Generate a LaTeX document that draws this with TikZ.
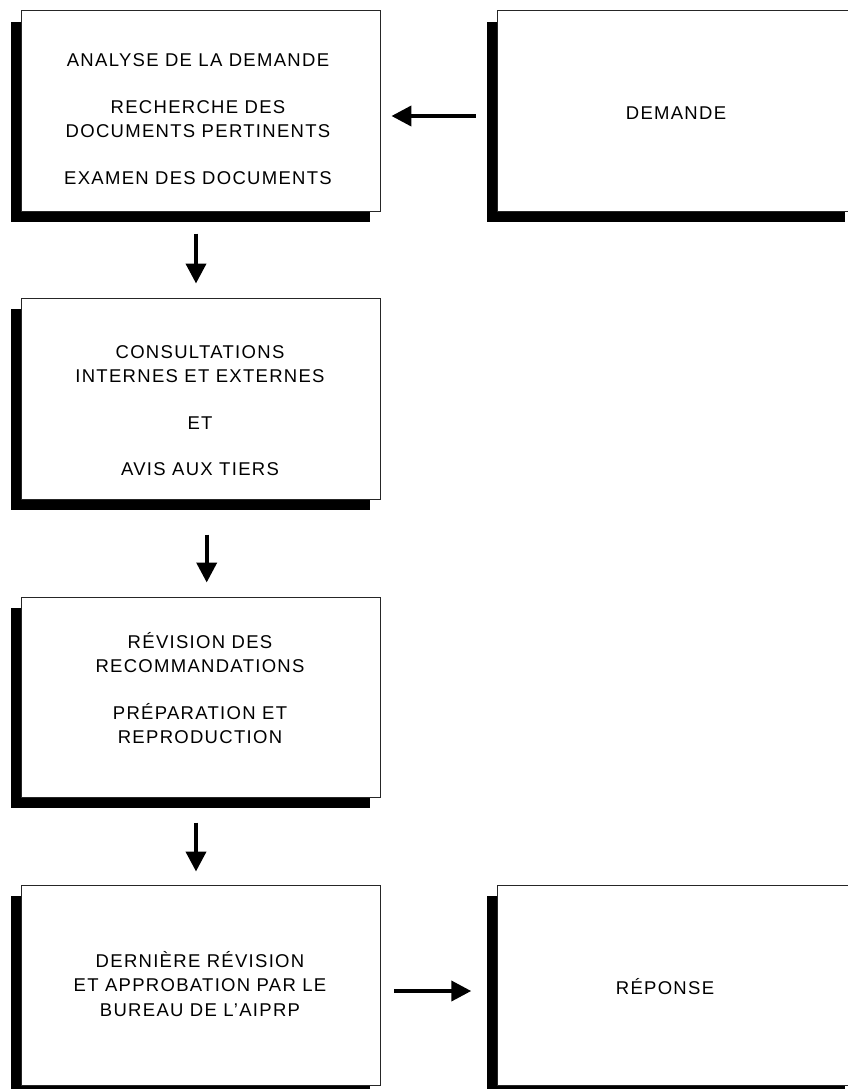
\documentclass[tikz,border=0pt]{standalone}
\usepackage{fontspec}
\setmainfont{Liberation Sans}[LetterSpace=7]
\usetikzlibrary{arrows.meta,shadows}
\begin{document}
\begin{tikzpicture}[x=1pt,y=-1pt,
  boxst/.style={draw=black!85, line width=1pt, fill=white, rectangle, inner sep=0pt,
    minimum width=359.3pt, minimum height=200pt,
    drop shadow={shadow xshift=-11pt, shadow yshift=-11pt, fill=black, opacity=1}},
  txt/.style={align=center, inner sep=0pt, font=\fontsize{18.5}{24.5}\selectfont, text=black},
  arr/.style={line width=4pt, -{Triangle[length=20pt,width=20pt]}}]
\useasboundingbox (0,0) rectangle (847,1089);

\node[boxst] (b1) at (201.3,111) {};
\node[boxst, minimum width=358.3pt] (dem) at (676.9,111) {};
\node[boxst, minimum height=201pt] (b2) at (201.3,398.5) {};
\node[boxst] (b3) at (201.3,697) {};
\node[boxst] (b4) at (201.3,985) {};
\node[boxst, minimum width=358.3pt] (rep) at (676.9,985) {};

\node[txt] (t1) at (198,119) {ANALYSE DE LA DEMANDE\\[22pt]RECHERCHE DES\\DOCUMENTS PERTINENTS\\[22pt]EXAMEN DES DOCUMENTS};
\node[txt] (tdem) at (676,112.7) {DEMANDE};
\node[txt] (t2) at (200,410.5) {CONSULTATIONS\\INTERNES ET EXTERNES\\[22pt]ET\\[22pt]AVIS AUX TIERS};
\node[txt] (t3) at (200,688) {RÉVISION DES\\RECOMMANDATIONS\\[22pt]PRÉPARATION ET\\REPRODUCTION};
\node[txt] (t4) at (200,984) {DERNIÈRE RÉVISION\\ET APPROBATION PAR LE\\BUREAU DE L’AIPRP};
\node[txt] (trep) at (665,987) {RÉPONSE};

\draw[arr] ([xshift=-21.7pt,yshift=-5pt]dem.west) -- ([xshift=10pt,yshift=-5pt]b1.east);
\draw[arr] ([xshift=-5.3pt,yshift=-22pt]b1.south) -- ([xshift=-5.3pt,yshift=14pt]b2.north);
\draw[arr] ([xshift=5.4pt,yshift=-35pt]b2.south) -- ([xshift=5.4pt,yshift=14pt]b3.north);
\draw[arr] ([xshift=-5.3pt,yshift=-25pt]b3.south) -- ([xshift=-5.3pt,yshift=13pt]b4.north);
\draw[arr] ([xshift=13pt,yshift=-6pt]b4.east) -- ([xshift=-26pt,yshift=-6pt]rep.west);
\end{tikzpicture}
\end{document}
